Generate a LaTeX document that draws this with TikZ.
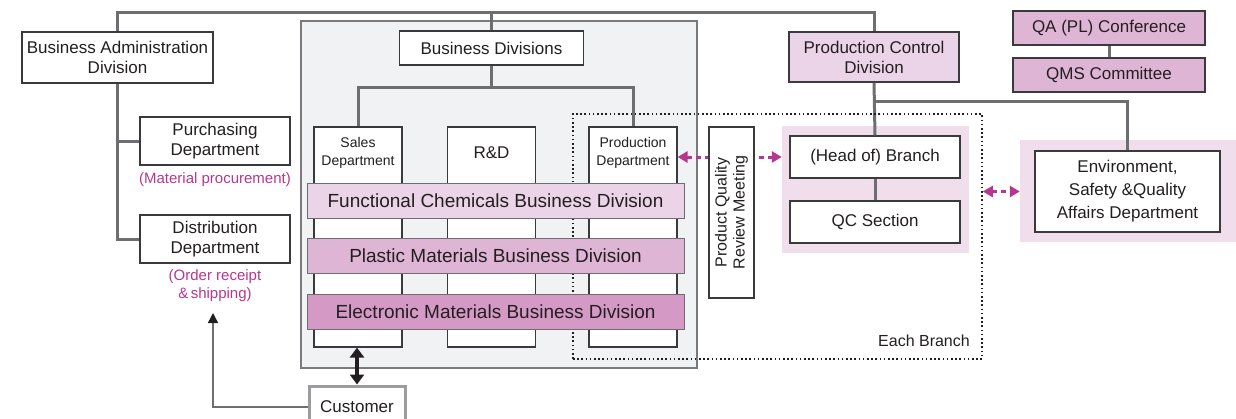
\documentclass[tikz,border=0pt]{standalone}
\usepackage{fontspec}
\setmainfont{Liberation Sans}
\usetikzlibrary{arrows.meta}
\definecolor{connc}{HTML}{6D6E71}
\definecolor{boxline}{HTML}{3A3A3C}
\definecolor{txt}{HTML}{231F20}
\definecolor{panelfill}{HTML}{F1F2F3}
\definecolor{panelline}{HTML}{7A7A7C}
\definecolor{pinkA}{HTML}{EBD4E8}
\definecolor{pinkB}{HTML}{DFB5D5}
\definecolor{pinkC}{HTML}{D49AC5}
\definecolor{pinkbg}{HTML}{F0DEEC}
\definecolor{mag}{HTML}{B6378F}
\definecolor{custline}{HTML}{9C9C9E}
\newcommand\fsz[2]{\fontsize{#1}{#2}\selectfont}
\begin{document}
\begin{tikzpicture}[x=1pt,y=-1pt,
  box/.style={draw=boxline, line width=1.2pt, fill=white, inner sep=0pt, align=center, text=txt, font=\fsz{17}{20}},
  label/.style={inner sep=0pt, align=center, text=txt, font=\fsz{17}{20}},
  band/.style={draw=connc, line width=1pt, inner sep=0pt, align=center, text=txt, font=\fsz{19}{22}, minimum width=377pt, minimum height=35pt},
  note/.style={inner sep=0pt, align=center, text=mag, font=\fsz{15}{18}},
  conn/.style={draw=connc, line width=3pt},
  bgpink/.style={fill=pinkbg, draw=none, inner sep=0pt},
  magarrow/.style={draw=mag, line width=3pt, dash pattern=on 5pt off 4pt, {Triangle[length=10pt,width=11pt]}-{Triangle[length=10pt,width=11pt]}},
  dottedbox/.style={draw=txt, line width=1.6pt, dash pattern=on 1.6pt off 2.6pt}
]
\useasboundingbox (0,0) rectangle (1236,418);
\clip (0,0) rectangle (1236,418);

% panel and backgrounds
\node[draw=panelline, line width=1.5pt, fill=panelfill, inner sep=0pt, minimum width=396pt, minimum height=347pt] (panel) at (499,194.5) {};
\node[bgpink, minimum width=187pt, minimum height=127pt] (brbg) at (875.5,189.5) {};
\node[bgpink, minimum width=220pt, minimum height=102pt] (esbg) at (1130,191) {};

% main nodes
\node[box, minimum width=191pt, minimum height=51pt] (bad) at (117.5,57.5) {Business Administration\\Division};
\node[box, minimum width=150pt, minimum height=48pt] (purch) at (215,141) {Purchasing\\Department};
\node[box, minimum width=150pt, minimum height=48pt] (dist) at (215,239) {Distribution\\Department};
\node[note] (matnote) at (215,180) {(Material procurement)};
\node[note] (ordnote) at (215,286) {(Order receipt\\\&\,shipping)};

\node[box, minimum width=184pt, minimum height=34pt] (bd) at (491.5,48) {Business Divisions};
\node[box, fill=pinkA, minimum width=170pt, minimum height=50pt] (pcd) at (874,57) {Production Control\\Division};
\node[box, fill=pinkB, minimum width=192pt, minimum height=34pt] (qa) at (1109,28) {QA (PL) Conference};
\node[box, fill=pinkB, minimum width=192pt, minimum height=34pt] (qms) at (1109,75) {QMS Committee};

% connectors
\coordinate (topy) at (0,12);
\coordinate (bdy) at (0,87);
\coordinate (pcdy) at (0,101);
\draw[conn] (bad.north) -- (bad.north |- topy) -- (pcd.north |- topy) -- (pcd.north);
\draw[conn] (bd.north) -- (bd.north |- topy);
\draw[conn] (bad.south) |- (dist.west);
\draw[conn] (bad.south |- purch.west) -- (purch.west);
\draw[conn] (qa.south) -- (qms.north);

% columns
\node[box, minimum width=88pt, minimum height=220pt] (sales) at (358,237) {};
\node[box, minimum width=88pt, minimum height=220pt] (rd) at (491.5,237) {};
\node[box, minimum width=88pt, minimum height=220pt] (prod) at (633,237) {};
\node[label, font=\fsz{14}{18}] (salest) at (358,153) {Sales\\Department};
\node[label] (rdt) at (491.5,153) {R\&D};
\node[label, font=\fsz{14}{18}] (prodt) at (633,153) {Production\\Department};
\draw[conn] (bd.south) -- (bd.south |- bdy);
\draw[conn] (sales.north) -- (sales.north |- bdy) -- (prod.north |- bdy) -- (prod.north);

% branch side
\node[box, minimum width=170pt, minimum height=42pt] (hob) at (875,157) {(Head of) Branch};
\node[box, minimum width=170pt, minimum height=42pt] (qc) at (875,222) {QC Section};
\node[box, font=\fsz{17}{23}, minimum width=185pt, minimum height=81pt] (esqa) at (1127.5,191.5) {Environment,\\Safety \&Quality\\Affairs Department};
\draw[conn] (pcd.south) -- (hob.north);
\draw[conn] (hob.south) -- (qc.north);
\draw[conn] (pcd.south |- pcdy) -| (esqa.north);

% dotted "each branch" frame
\node[dottedbox, inner sep=0pt, minimum width=409pt, minimum height=245pt] (branch) at (777.5,236.5) {};
\node[label, font=\fsz{16}{18}, anchor=east] (eachbr) at (970,341) {Each Branch};

% business division bands
\node[band, fill=pinkA] (fc) at (495.5,200.5) {Functional Chemicals Business Division};
\node[band, fill=pinkB] (pm) at (495.5,256) {Plastic Materials Business Division};
\node[band, fill=pinkC] (em) at (495.5,311.5) {Electronic Materials Business Division};

% magenta arrows
\draw[magarrow] (prod.east |- hob.west) -- (brbg.west |- hob.west);
\draw[magarrow] (branch.east |- esqa.west) -- (esbg.west |- esqa.west);

% product quality review meeting
\node[box, minimum width=45pt, minimum height=171pt] (pqrm) at (731.5,212.5) {};
\node[label, rotate=90, font=\fsz{16}{18}] (pqrmt) at (pqrm) {Product Quality\\Review Meeting};

% customer
\node[box, draw=custline, line width=3pt, minimum width=96pt, minimum height=42pt] (cust) at (357,407) {Customer};
\coordinate (custtip) at (213,313);
\draw[draw=connc, line width=1.5pt, -{Triangle[length=10pt,width=10pt,color=txt]}] (cust.west) -| (custtip);
\draw[draw=txt, line width=4pt, {Triangle[length=10pt,width=14pt]}-{Triangle[length=10pt,width=14pt]}] (cust.north) -- (cust.north |- sales.south);
\end{tikzpicture}
\end{document}
